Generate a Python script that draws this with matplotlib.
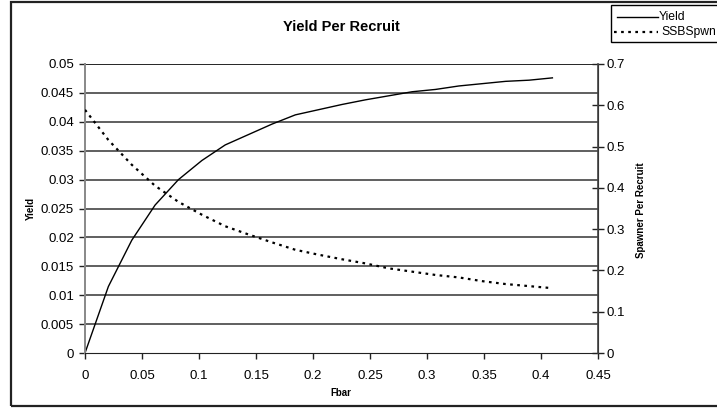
import numpy as np
from matplotlib import pyplot as plt
from matplotlib.patches import Rectangle
from matplotlib.lines import Line2D

plt.rcParams['font.family'] = ['Liberation Sans', 'DejaVu Sans']

# fishing mortality (Fbar) values
fbar = [0, 0.0205, 0.041, 0.0615, 0.082, 0.1025, 0.123, 0.1435, 0.164, 0.1845, 0.205,
        0.2255, 0.246, 0.2665, 0.287, 0.3075, 0.328, 0.3485, 0.369, 0.3895, 0.41]

# yield per recruit (left axis)
yield_pr = [0, 0.0115, 0.0195, 0.0256, 0.0300, 0.0333, 0.0360, 0.0378, 0.0396, 0.0412, 0.0421,
            0.0430, 0.0438, 0.0445, 0.0452, 0.0456, 0.0462, 0.0466, 0.0470, 0.0472, 0.0476]

# spawner per recruit (right axis)
ssb_pr = [0.589, 0.516, 0.456, 0.405, 0.366, 0.335, 0.307, 0.287, 0.268, 0.250, 0.238,
          0.227, 0.217, 0.205, 0.197, 0.189, 0.183, 0.174, 0.167, 0.162, 0.157]

x_ticks = [0, 0.05, 0.1, 0.15, 0.2, 0.25, 0.3, 0.35, 0.4, 0.45]
x_labels = ['0', '0.05', '0.1', '0.15', '0.2', '0.25', '0.3', '0.35', '0.4', '0.45']
left_ticks = [0, 0.005, 0.01, 0.015, 0.02, 0.025, 0.03, 0.035, 0.04, 0.045, 0.05]
left_labels = ['0', '0.005', '0.01', '0.015', '0.02', '0.025', '0.03', '0.035', '0.04', '0.045', '0.05']
right_ticks = [0, 0.1, 0.2, 0.3, 0.4, 0.5, 0.6, 0.7]
right_labels = ['0', '0.1', '0.2', '0.3', '0.4', '0.5', '0.6', '0.7']

W, H = 717, 408
fig = plt.figure(figsize=(W / 100, H / 100), dpi=100)


def fx(px):
    return px / W


def fy(py):
    return 1 - py / H


# outer chart border (runs off the right edge like the original)
fig.patches.append(Rectangle((fx(11), fy(406)), fx(760) - fx(11), fy(2) - fy(406),
                             transform=fig.transFigure, fill=False, edgecolor='#222222', lw=1.6))

ax = fig.add_axes([fx(85), fy(353), fx(598) - fx(85), fy(64) - fy(353)])
ax2 = ax.twinx()

ax.plot(fbar, yield_pr, color='black', lw=1.0)
ax2.plot(fbar, ssb_pr, color='black', lw=1.6, linestyle=(0, (1.2, 2.0)))

ax.set_xlim(0, 0.45)
ax.set_ylim(0, 0.05)
ax2.set_ylim(0, 0.7)

ax.set_xticks(x_ticks, x_labels)
ax.set_yticks(left_ticks, left_labels)
ax2.set_yticks(right_ticks, right_labels)

for g in left_ticks[1:]:
    ax.axhline(g, color='#000000' if g == 0.05 else '#444444', lw=1.2, zorder=0)

ax.tick_params(axis='both', labelsize=9.5, length=4, width=1, color='#222222', pad=4)
ax.tick_params(axis='x', pad=8)
ax2.tick_params(axis='y', labelsize=9.5, length=8, width=1, direction='inout', color='#222222', pad=2)

for a in (ax, ax2):
    a.spines['top'].set_visible(False)
ax.spines['left'].set_color('#888888')
ax.spines['left'].set_linewidth(1.4)
ax.spines['bottom'].set_color('#222222')
ax2.spines['left'].set_visible(False)
ax2.spines['right'].set_color('#444444')
ax2.spines['right'].set_linewidth(1.2)
ax2.spines['bottom'].set_visible(False)

fig.text(fx(341), fy(27), 'Yield Per Recruit', ha='center', va='center', fontsize=10.5, fontweight='bold')
fig.text(fx(341), fy(393), 'Fbar', ha='center', va='center', fontsize=7, fontweight='bold')
fig.text(fx(31), fy(208), 'Yield', ha='center', va='center', rotation=90, fontsize=7, fontweight='bold')
fig.text(fx(641), fy(210), 'Spawner Per Recruit', ha='center', va='center', rotation=90,
         fontsize=7, fontweight='bold')

# legend box, drawn by hand so it can run past the figure edge
fig.patches.append(Rectangle((fx(611), fy(42)), fx(760) - fx(611), fy(5) - fy(42),
                             transform=fig.transFigure, fill=True, facecolor='white',
                             edgecolor='black', lw=1.0))
fig.lines.append(Line2D([fx(617), fx(658)], [fy(17), fy(17)], transform=fig.transFigure,
                        color='black', lw=1.0))
fig.lines.append(Line2D([fx(614), fx(658)], [fy(32), fy(32)], transform=fig.transFigure,
                        color='black', lw=1.6, linestyle=(0, (1.2, 2.0))))
fig.text(fx(659), fy(17), 'Yield', ha='left', va='center', fontsize=8.7)
fig.text(fx(661), fy(32), 'SSBSpwn', ha='left', va='center', fontsize=8.7)

fig.savefig('out.png', dpi=100)
